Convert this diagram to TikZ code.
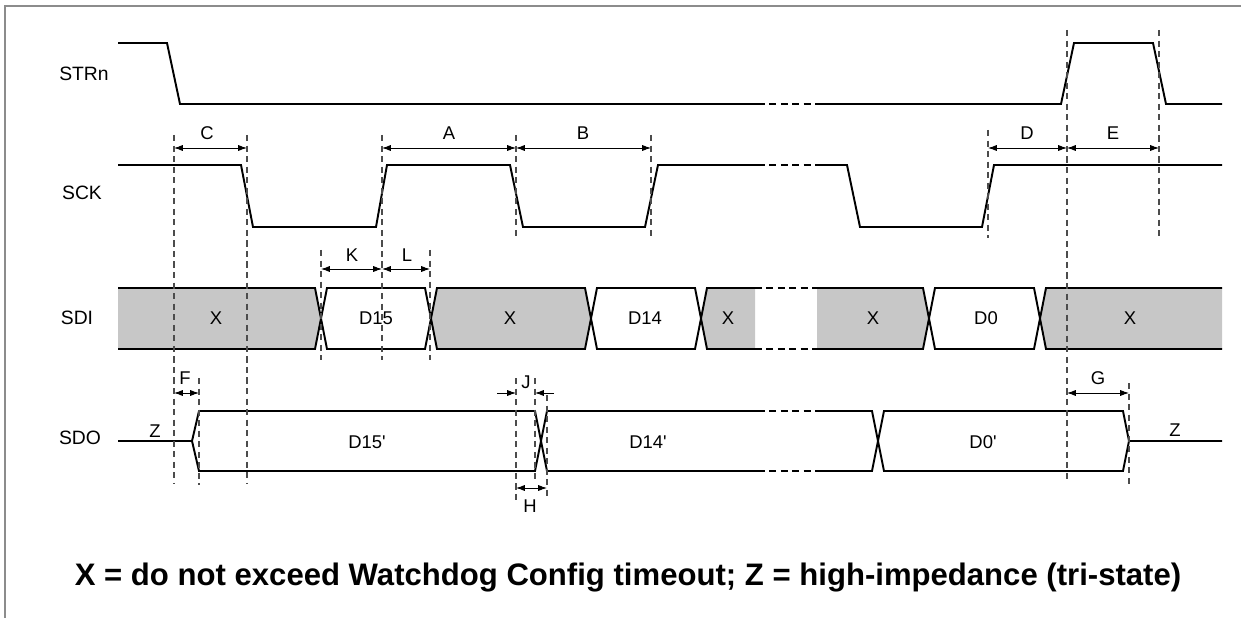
\documentclass[tikz,border=0pt]{standalone}
\usepackage{fontspec}
\setmainfont{Liberation Sans}
\usepackage{tikz}
\usetikzlibrary{arrows.meta}
\pgfdeclarelayer{background}
\pgfdeclarelayer{foreground}
\pgfsetlayers{background,main,foreground}
\definecolor{xgray}{gray}{0.78}
\definecolor{framegray}{gray}{0.55}
\tikzset{
  wave/.style={line width=1.1pt},
  skip/.style={line width=1.1pt, dash pattern=on 4pt off 2.5pt},
  guide/.style={line width=0.6pt, dash pattern=on 3.5pt off 2.5pt, black!70},
  dim/.style={{Latex[length=5pt,width=3.5pt]}-{Latex[length=5pt,width=3.5pt]}, line width=0.5pt},
  half/.style={-{Latex[length=5pt,width=3.5pt]}, line width=0.5pt},
  sig/.style={font=\fontsize{11}{13}\selectfont},
  tag/.style={font=\fontsize{10.5}{12}\selectfont, inner sep=1pt}
}

\begin{document}
\begin{tikzpicture}[x=0.02cm,y=-0.02cm]
\useasboundingbox (0,0) rectangle (1241,618);
\draw[framegray, line width=0.8pt] (5,618) -- (5,6) -- (1241,6);

\node[sig] (strn) at (84,74) {STRn};
\node[sig] (sck) at (82,193) {SCK};
\node[sig] (sdi) at (77,318) {SDI};
\node[sig] (sdo) at (80,438) {SDO};

\draw[wave] (118,43) -- (167,43) -- (180,104) -- (758,104);
\draw[skip] (758,104) -- (815,104);
\draw[wave] (815,104) -- (1061,104) -- (1074,43) -- (1153,43) -- (1166,104) -- (1222,104);

\draw[wave] (118,165) -- (241,165) -- (253,227) -- (376,227) -- (387,165) -- (510,165) -- (523,227) -- (645,227) -- (658,165) -- (758,165);
\draw[skip] (758,165) -- (815,165);
\draw[wave] (815,165) -- (847,165) -- (860,227) -- (982,227) -- (994,165) -- (1222,165);

\begin{pgfonlayer}{background}
\fill[xgray] (118,288) -- (315,288) -- (321,318.5) -- (315,349) -- (118,349) -- cycle;
\fill[xgray] (431,318.5) -- (437,288) -- (585,288) -- (591,318.5) -- (585,349) -- (437,349) -- cycle;
\fill[xgray] (701,318.5) -- (707,288) -- (755,288) -- (755,349) -- (707,349) -- cycle;
\fill[xgray] (817,288) -- (923,288) -- (929,318.5) -- (923,349) -- (817,349) -- cycle;
\fill[xgray] (1040,318.5) -- (1046,288) -- (1222,288) -- (1222,349) -- (1046,349) -- cycle;
\end{pgfonlayer}
\draw[wave] (118,288) -- (315,288) -- (327,349) -- (425,349) -- (437,288) -- (585,288) -- (597,349) -- (695,349) -- (707,288) -- (755,288);
\draw[wave] (118,349) -- (315,349) -- (327,288) -- (425,288) -- (437,349) -- (585,349) -- (597,288) -- (695,288) -- (707,349) -- (755,349);
\draw[skip] (755,288) -- (815,288) (755,349) -- (815,349);
\draw[wave] (815,288) -- (923,288) -- (935,349) -- (1034,349) -- (1046,288) -- (1222,288);
\draw[wave] (815,349) -- (923,349) -- (935,288) -- (1034,288) -- (1046,349) -- (1222,349);
\node[tag] (x1) at (216,318) {X};
\node[tag] (d15) at (376,318) {D15};
\node[tag] (x2) at (510,318) {X};
\node[tag] (d14) at (645,318) {D14};
\node[tag] (x3) at (728,318) {X};
\node[tag] (x4) at (873,318) {X};
\node[tag] (d0) at (986,318) {D0};
\node[tag] (x5) at (1130,318) {X};

\draw[wave] (118,441) -- (192,441);
\draw[wave] (192,441) -- (199,411) -- (535,411) -- (547,471) -- (758,471);
\draw[wave] (192,441) -- (199,471) -- (535,471) -- (547,411) -- (758,411);
\draw[skip] (758,411) -- (815,411) (758,471) -- (815,471);
\draw[wave] (815,411) -- (872,411) -- (884,471) -- (1123,471) -- (1129,441) -- (1222,441);
\draw[wave] (815,471) -- (872,471) -- (884,411) -- (1123,411) -- (1129,441);
\node[tag] (z1) at (155,431) {Z};
\node[tag] (d15o) at (367,442) {D15\textquotesingle};
\node[tag] (d14o) at (648,442) {D14\textquotesingle};
\node[tag] (d0o) at (983,442) {D0\textquotesingle};
\node[tag] (z2) at (1175,430) {Z};

\begin{pgfonlayer}{foreground}
\draw[guide] (174,135) -- (174,483);
\draw[guide] (247,135) -- (247,483);
\draw[guide] (382,135) -- (382,360);
\draw[guide] (516,135) -- (516,238);
\draw[guide] (651,135) -- (651,238);
\draw[guide] (988,130) -- (988,238);
\draw[guide] (1067,30) -- (1067,483);
\draw[guide] (1159,30) -- (1159,240);
\draw[guide] (321,250) -- (321,360);
\draw[guide] (430,250) -- (430,360);
\draw[guide] (199,378) -- (199,485);
\draw[guide] (516,378) -- (516,500);
\draw[guide] (535,378) -- (535,480);
\draw[guide] (547,395) -- (547,500);
\draw[guide] (1129,383) -- (1129,485);
\end{pgfonlayer}

\coordinate (c1) at (174,148);
\coordinate (c2) at (247,148);
\coordinate (a1) at (382,148);
\coordinate (a2) at (516,148);
\coordinate (b2) at (651,148);
\coordinate (d1) at (988,148);
\coordinate (d2) at (1067,148);
\coordinate (e2) at (1159,148);
\coordinate (k1) at (321,269);
\coordinate (k2) at (382,269);
\coordinate (l2) at (430,269);
\coordinate (f1) at (174,393);
\coordinate (f2) at (199,393);
\coordinate (j0) at (497,393);
\coordinate (j1) at (516,393);
\coordinate (j2) at (535,393);
\coordinate (j3) at (554,393);
\coordinate (h1) at (516,488);
\coordinate (h2) at (547,488);
\coordinate (g1) at (1067,393);
\coordinate (g2) at (1129,393);

\draw[dim] (c1) -- (c2);
\draw[dim] (a1) -- (a2);
\draw[dim] (a2) -- (b2);
\draw[dim] (d1) -- (d2);
\draw[dim] (d2) -- (e2);
\draw[dim] (k1) -- (k2);
\draw[dim] (k2) -- (l2);
\draw[dim] (f1) -- (f2);
\draw[half] (j0) -- (j1);
\draw[half] (j3) -- (j2);
\draw[dim] (h1) -- (h2);
\draw[dim] (g1) -- (g2);

\node[tag] (lc) at (207,133) {C};
\node[tag] (la) at (449,133) {A};
\node[tag] (lb) at (583,133) {B};
\node[tag] (ld) at (1027,133) {D};
\node[tag] (le) at (1113,133) {E};
\node[tag] (lk) at (352,255) {K};
\node[tag] (ll) at (407,255) {L};
\node[tag] (lf) at (185,378) {F};
\node[tag] (lj) at (526,382) {J};
\node[tag] (lh) at (530,506) {H};
\node[tag] (lg) at (1098,378) {G};

\node[font=\bfseries\fontsize{17.7}{21}\selectfont] (note) at (628,578) {X = do not exceed Watchdog Config timeout; Z = high-impedance (tri-state)};
\end{tikzpicture}
\end{document}
